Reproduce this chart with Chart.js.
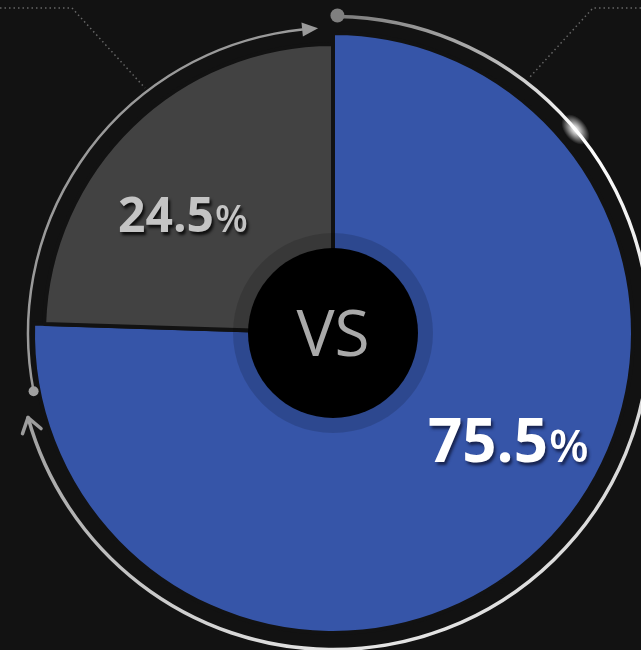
<!DOCTYPE html>
<html><head><meta charset="utf-8">
<script src="https://cdn.jsdelivr.net/npm/chart.js@4"></script>
<style>
html,body{margin:0;padding:0;background:#121212;overflow:hidden}
#wrap{width:641px;height:650px;position:relative}
canvas{display:block}
</style></head>
<body><div id="wrap"><canvas id="c" width="641" height="650"></canvas></div>
<script>
const categories = ['Side A', 'Side B'];
const shares = [75.5, 24.5];
const sliceColors = ['#3655a8', '#424242'];
const labelColors = ['#ffffff', '#c4c4c4'];
const centerText = 'VS';

const BG = '#121212';
const deg = Math.PI / 180;

function polar(cx, cy, r, aDegFromTop) {
  const a = (aDegFromTop - 90) * deg;
  return [cx + r * Math.cos(a), cy + r * Math.sin(a)];
}

const deco = {
  id: 'deco',
  beforeDraw(chart) {
    const ctx = chart.ctx;
    ctx.save();
    ctx.fillStyle = BG;
    ctx.fillRect(0, 0, chart.width, chart.height);
    ctx.strokeStyle = '#666';
    ctx.lineWidth = 1.5;
    ctx.setLineDash([1.5, 3]);
    ctx.beginPath();
    ctx.moveTo(0, 8); ctx.lineTo(72, 8); ctx.lineTo(145, 88);
    ctx.moveTo(641, 8); ctx.lineTo(593, 8); ctx.lineTo(529, 78);
    ctx.stroke();
    ctx.restore();
  },
  beforeDatasetsDraw(chart) {
    const meta = chart.getDatasetMeta(0);
    const a = meta.data[0], b = meta.data[1];
    if (a && b) b.outerRadius = a.outerRadius - 11;
  },
  afterDatasetsDraw(chart) {
    const ctx = chart.ctx;
    const meta = chart.getDatasetMeta(0);
    const el = meta.data[0];
    const cx = el.x, cy = el.y;
    ctx.save();

    // outer arc 1 (gradient) with chevron
    const r1 = 316.5;
    const a1s = 0.8, a1e = 254.5;
    let g;
    if (ctx.createConicGradient) {
      g = ctx.createConicGradient(-Math.PI / 2, cx, cy);
      g.addColorStop(0, '#7a7a7a');
      g.addColorStop(0.08, '#b0b0b0');
      g.addColorStop(0.14, '#ffffff');
      g.addColorStop(0.3, '#d8d8d8');
      g.addColorStop(0.5, '#e6e6e6');
      g.addColorStop(0.6, '#c8c8c8');
      g.addColorStop(0.72, '#9a9a9a');
      g.addColorStop(1, '#9a9a9a');
    } else { g = '#cccccc'; }
    ctx.strokeStyle = g;
    ctx.lineWidth = 3.5;
    ctx.lineCap = 'round';
    ctx.beginPath();
    ctx.arc(cx, cy, r1, (a1s - 90) * deg, (a1e - 90) * deg);
    ctx.stroke();
    const [dx1, dy1] = polar(cx, cy, r1 + 1, a1s);
    ctx.fillStyle = '#7f7f7f';
    ctx.beginPath(); ctx.arc(dx1, dy1, 7, 0, Math.PI * 2); ctx.fill();
    const [tx, ty] = polar(cx, cy, r1, a1e);
    const tang = (a1e - 90) * deg + Math.PI / 2;
    ctx.strokeStyle = '#9c9c9c';
    ctx.lineWidth = 3.5;
    ctx.lineCap = 'round';
    ctx.beginPath();
    for (const s of [-1, 1]) {
      const ang = tang + Math.PI + s * 0.6;
      ctx.moveTo(tx, ty);
      ctx.lineTo(tx + 17 * Math.cos(ang), ty + 17 * Math.sin(ang));
    }
    ctx.stroke();

    // outer arc 2 with triangle arrow
    const r2 = 305;
    const a2s = 259, a2e = 354.2, a2tip = 357.2;
    ctx.strokeStyle = '#9a9a9a';
    ctx.lineWidth = 2.5;
    ctx.beginPath();
    ctx.arc(cx, cy, r2, (a2s - 90) * deg, (a2e - 90) * deg);
    ctx.stroke();
    const [sx2, sy2] = polar(cx, cy, r2, a2s);
    ctx.fillStyle = '#a0a0a0';
    ctx.beginPath(); ctx.arc(sx2, sy2, 5, 0, Math.PI * 2); ctx.fill();
    const [px, py] = polar(cx, cy, r2, a2tip);
    const [ox1, oy1] = polar(cx, cy, r2 - 7, a2e);
    const [ox2, oy2] = polar(cx, cy, r2 + 7, a2e);
    ctx.fillStyle = '#9a9a9a';
    ctx.beginPath();
    ctx.moveTo(px, py); ctx.lineTo(ox1, oy1); ctx.lineTo(ox2, oy2); ctx.closePath();
    ctx.fill();

    // glow spot, elongated along the arc
    const [gx, gy] = polar(cx, cy, r1, 50);
    ctx.save();
    ctx.translate(gx, gy);
    ctx.rotate((50) * deg);
    ctx.scale(1.6, 1);
    const rg = ctx.createRadialGradient(0, 0, 0, 0, 0, 11);
    rg.addColorStop(0, 'rgba(255,255,255,1)');
    rg.addColorStop(0.3, 'rgba(255,255,255,0.75)');
    rg.addColorStop(1, 'rgba(255,255,255,0)');
    ctx.fillStyle = rg;
    ctx.beginPath(); ctx.arc(0, 0, 11, 0, Math.PI * 2); ctx.fill();
    ctx.restore();

    // center rings
    ctx.fillStyle = 'rgba(0,0,0,0.15)';
    ctx.beginPath(); ctx.arc(cx, cy, 100, 0, Math.PI * 2); ctx.fill();
    ctx.fillStyle = '#000';
    ctx.beginPath(); ctx.arc(cx, cy, 85, 0, Math.PI * 2); ctx.fill();
    ctx.fillStyle = '#a9a9a9';
    ctx.font = '400 64px "Open Sans"';
    ctx.textAlign = 'center';
    ctx.textBaseline = 'alphabetic';
    ctx.fillText(centerText, cx, cy + 23);

    // percentage labels
    const spec = [
      {dx: 95, dy: 129, big: 60, small: 46, shadow: 'rgba(20,30,70,0.9)'},
      {dx: -215, dy: -101, big: 48, small: 38, shadow: 'rgba(0,0,0,0.8)'}
    ];
    ctx.textAlign = 'left';
    shares.forEach((v, i) => {
      const s = spec[i];
      const x = cx + s.dx, y = cy + s.dy;
      const num = v.toFixed(1);
      ctx.shadowColor = s.shadow;
      ctx.shadowOffsetX = 2; ctx.shadowOffsetY = 3; ctx.shadowBlur = 3;
      ctx.fillStyle = labelColors[i];
      ctx.font = '700 ' + s.big + 'px "Open Sans"';
      ctx.fillText(num, x, y);
      const w = ctx.measureText(num).width;
      ctx.font = '600 ' + s.small + 'px "Open Sans"';
      ctx.fillText('%', x + w + 1, y);
    });
    ctx.restore();
  }
};

new Chart(document.getElementById('c'), {
  type: 'pie',
  data: {
    labels: categories,
    datasets: [{
      data: shares,
      backgroundColor: sliceColors,
      borderColor: BG,
      borderWidth: 4,
      radius: 300
    }]
  },
  options: {
    responsive: false,
    animation: false,
    events: [],
    layout: {padding: {left: 35, right: 10, top: 35, bottom: 19}},
    plugins: {legend: {display: false}, tooltip: {enabled: false}}
  },
  plugins: [deco]
});
</script>
</body></html>
